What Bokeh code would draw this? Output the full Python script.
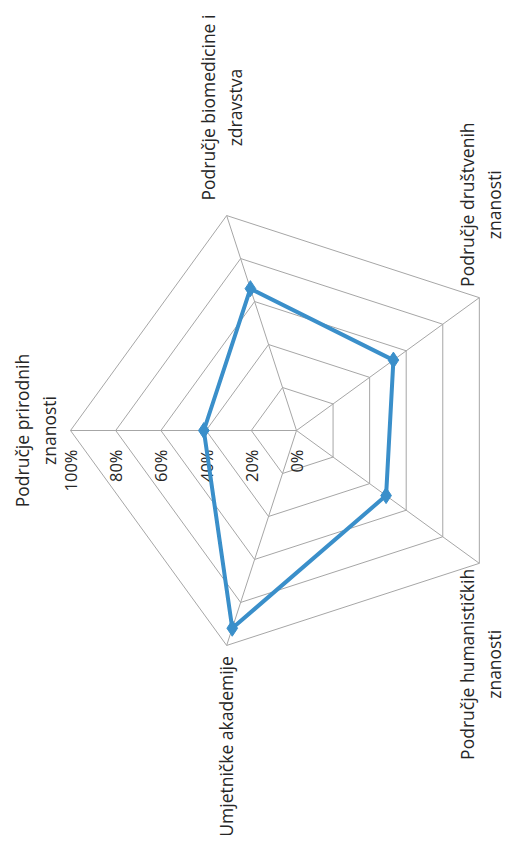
import math
from bokeh.plotting import figure
from bokeh.models import Range1d
from bokeh.core.properties import value
from bokeh.embed import file_html
from bokeh.resources import INLINE

# ---- data ----
categories = [
    "Područje prirodnih\nznanosti",
    "Područje biomedicine i\nzdravstva",
    "Područje društvenih\nznanosti",
    "Područje humanističkih\nznanosti",
    "Umjetničke akademije",
]
values = [0.41, 0.66, 0.53, 0.49, 0.92]
tick_values = [0.0, 0.2, 0.4, 0.6, 0.8, 1.0]
tick_labels = ["0%", "20%", "40%", "60%", "80%", "100%"]

# ---- layout (pixels) ----
R = 226.0
W, H = 504, 835
cx, cy = 296, 430  # centre from frame's left/top
FONT = "Open Sans"
GRID = "#A6A6A6"
BLUE = "#3A8FCA"
TXT = "#262626"

n = len(categories)
angles = [math.radians(180 - 72 * i) for i in range(n)]

def pt(r, a):
    return R * r * math.cos(a), R * r * math.sin(a)

p = figure(width=W, height=H, output_backend="svg", toolbar_location=None,
           x_range=Range1d(-cx, W - cx), y_range=Range1d(-(H - cy), cy),
           min_border=0)
p.axis.visible = False
p.grid.visible = False
p.outline_line_color = None
p.background_fill_color = "white"

# grid pentagons
for t in tick_values[1:]:
    xs = [pt(t, a)[0] for a in angles] + [pt(t, angles[0])[0]]
    ys = [pt(t, a)[1] for a in angles] + [pt(t, angles[0])[1]]
    p.line(xs, ys, line_color=GRID, line_width=1)

# spokes
for a in angles:
    x1, y1 = pt(1.0, a)
    p.line([0, x1], [0, y1], line_color=GRID, line_width=1)

# tick labels along first spoke
tx = [pt(t, angles[0])[0] for t in tick_values]
ty = [-19] * len(tick_values)
p.text(tx, ty, text=tick_labels, angle=math.pi / 2, text_align="right",
       text_baseline="middle", text_font=value(FONT), text_font_size="16.5px",
       text_color=TXT)

# data series
dx = [pt(v, a)[0] for v, a in zip(values, angles)]
dy = [pt(v, a)[1] for v, a in zip(values, angles)]
p.line(dx + [dx[0]], dy + [dy[0]], line_color=BLUE, line_width=4,
       line_join="round")
p.scatter(dx, dy, marker="diamond", size=16, fill_color=BLUE,
          line_color=BLUE)

# category labels (offsets from vertex, pixels)
label_off = [(-35, 0), (-5, 108), (1, 93), (1, -101), (-1, -101)]
lx = [pt(1.0, a)[0] + o[0] for a, o in zip(angles, label_off)]
ly = [pt(1.0, a)[1] + o[1] for a, o in zip(angles, label_off)]
p.text(lx, ly, text=categories, angle=math.pi / 2, text_align="center",
       text_baseline="middle", text_font=value(FONT), text_font_size="17.5px",
       text_color=TXT, text_line_height=1.1)

open("out.html", "w").write(file_html(p, INLINE))
